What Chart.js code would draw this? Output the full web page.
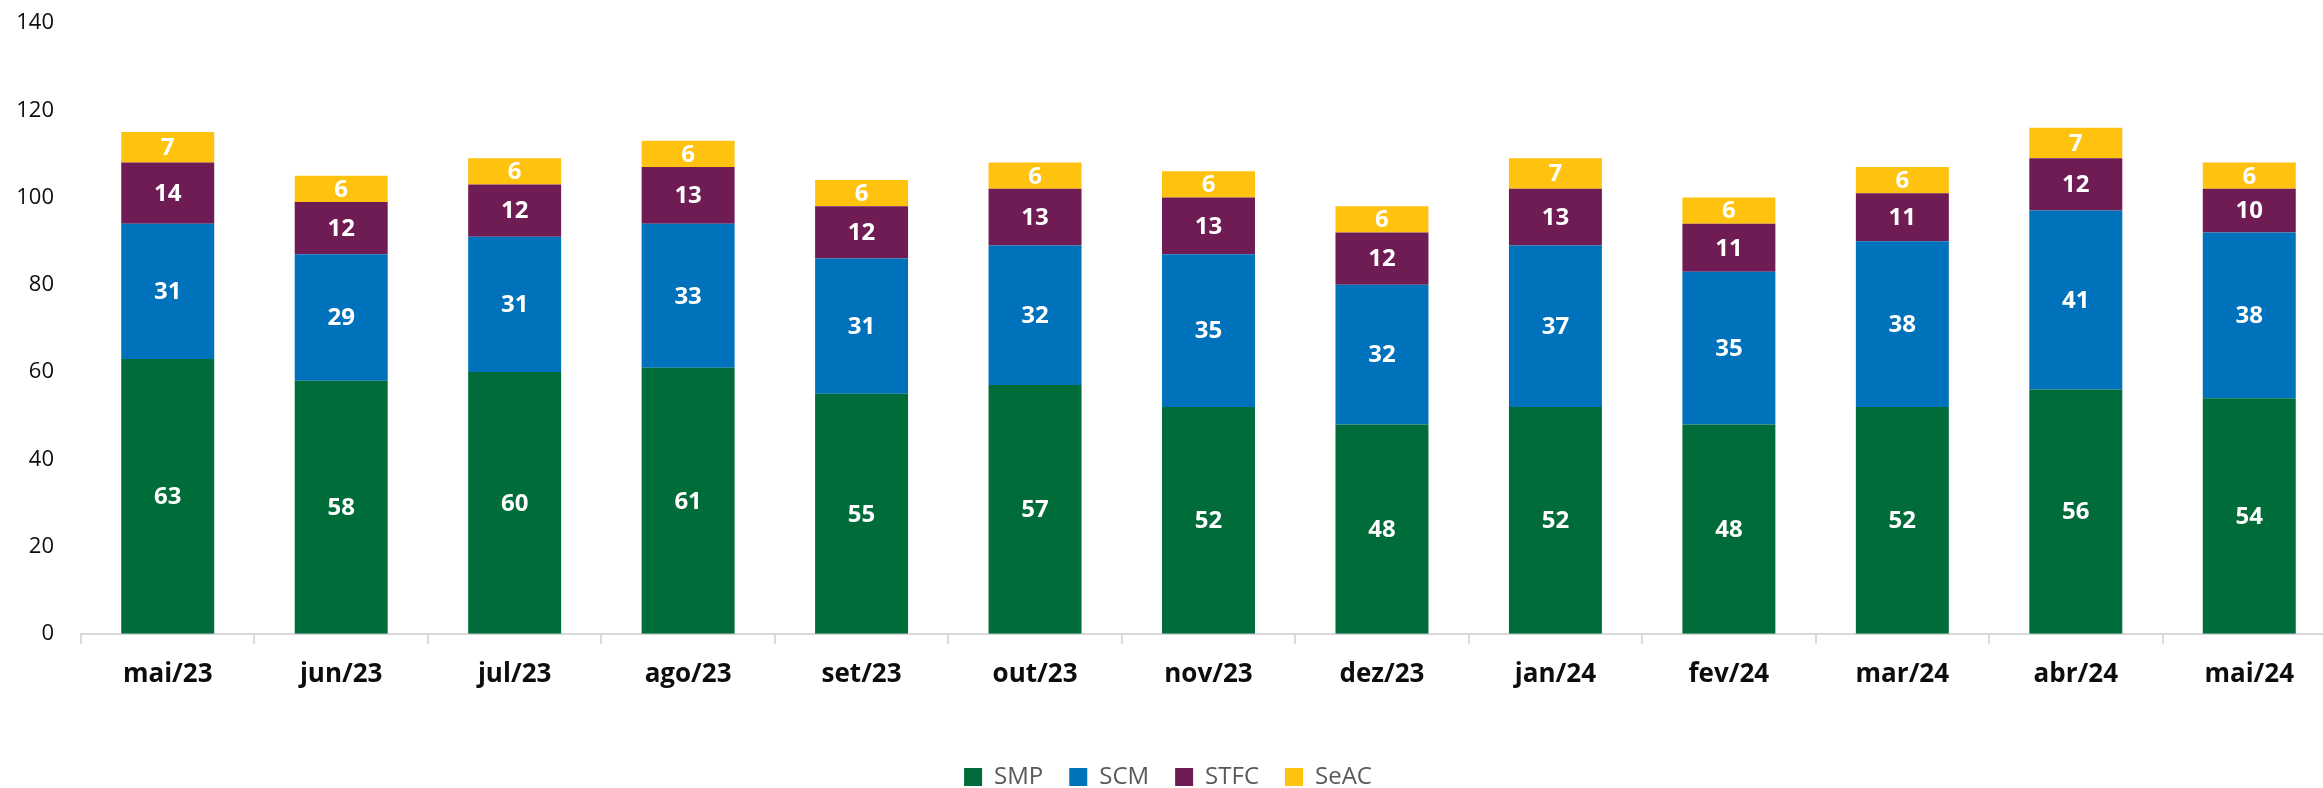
<!DOCTYPE html>
<html>
<head>
<meta charset="utf-8">
<script src="https://cdn.jsdelivr.net/npm/chart.js@4/dist/chart.umd.min.js"></script>
<style>
  html, body { margin: 0; padding: 0; background: #fff; overflow: hidden; }
  #wrap { position: relative; width: 2336px; height: 788px; }
</style>
</head>
<body>
<div id="wrap"><canvas id="chart"></canvas></div>
<script>
// months on the x axis
var months = ["mai/23", "jun/23", "jul/23", "ago/23", "set/23", "out/23", "nov/23",
              "dez/23", "jan/24", "fev/24", "mar/24", "abr/24", "mai/24"];

// stacked series, bottom to top
var smp  = [63, 58, 60, 61, 55, 57, 52, 48, 52, 48, 52, 56, 54];
var scm  = [31, 29, 31, 33, 31, 32, 35, 32, 37, 35, 38, 41, 38];
var stfc = [14, 12, 12, 13, 12, 13, 13, 12, 13, 11, 11, 12, 10];
var seac = [7, 6, 6, 6, 6, 6, 6, 6, 7, 6, 6, 7, 6];

var yTicks = [0, 20, 40, 60, 80, 100, 120, 140];

var FONT = "'Open Sans', 'Noto Sans', sans-serif";

// white value labels in the middle of each segment
var segmentLabels = {
    id: 'segmentLabels',
    afterDatasetsDraw: function(chart) {
        var ctx = chart.ctx;
        ctx.save();
        ctx.fillStyle = '#ffffff';
        ctx.font = 'bold 24px ' + FONT;
        ctx.textAlign = 'center';
        ctx.textBaseline = 'middle';
        chart.data.datasets.forEach(function(ds, i) {
            var meta = chart.getDatasetMeta(i);
            meta.data.forEach(function(bar, j) {
                var p = bar.getCenterPoint();
                ctx.fillText(String(ds.data[j]), p.x, p.y + 1);
            });
        });
        ctx.restore();
    }
};

new Chart(document.getElementById('chart'), {
    type: 'bar',
    data: {
        labels: months,
        datasets: [
            { label: 'SMP',  data: smp,  backgroundColor: '#006C39' },
            { label: 'SCM',  data: scm,  backgroundColor: '#0072BC' },
            { label: 'STFC', data: stfc, backgroundColor: '#6F1C55' },
            { label: 'SeAC', data: seac, backgroundColor: '#FFC20E' }
        ]
    },
    options: {
        responsive: true,
        maintainAspectRatio: false,
        animation: false,
        layout: { padding: { top: 23, right: 0, bottom: -11, left: 0 } },
        datasets: {
            bar: { categoryPercentage: 1, barPercentage: 0.536 }
        },
        plugins: {
            tooltip: { enabled: false },
            legend: {
                position: 'bottom',
                labels: {
                    boxWidth: 18,
                    boxHeight: 18,
                    padding: 26,
                    color: '#595959',
                    font: { family: FONT, size: 24 }
                }
            }
        },
        scales: {
            x: {
                stacked: true,
                afterFit: function(scale) { scale.height += 34; },
                grid: {
                    display: true,
                    drawOnChartArea: false,
                    drawTicks: true,
                    tickLength: 10,
                    color: '#d9d9d9',
                    lineWidth: 2,
                    offset: true
                },
                border: { display: true, color: '#d9d9d9', width: 2 },
                ticks: {
                    color: '#0d0d0d',
                    padding: 15,
                    font: { family: FONT, size: 26, weight: 'bold' }
                }
            },
            y: {
                stacked: true,
                min: 0,
                max: 140,
                afterFit: function(scale) { scale.width = 81; },
                afterBuildTicks: function(scale) {
                    scale.ticks = yTicks.map(function(v) { return { value: v }; });
                },
                // tick marks are hidden; their length only spaces the labels from the axis
                grid: { display: false, drawTicks: true, tickLength: 27 },
                border: { display: false },
                ticks: {
                    color: '#0d0d0d',
                    padding: 0,
                    font: { family: FONT, size: 22 }
                }
            }
        }
    },
    plugins: [segmentLabels]
});
</script>
</body>
</html>
